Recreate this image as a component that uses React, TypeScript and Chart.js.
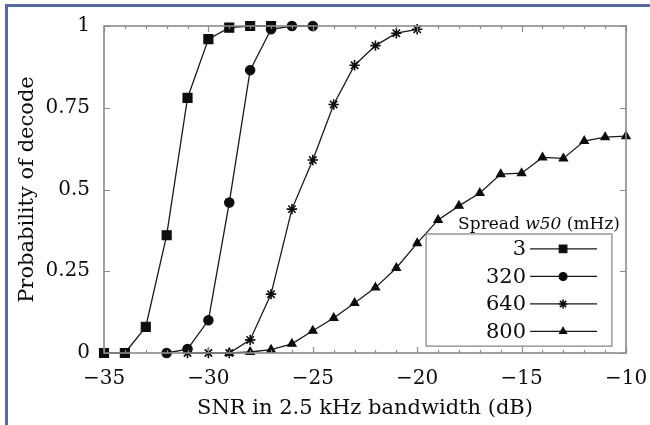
import React, { useEffect, useRef } from "react";
import { Chart, registerables } from "chart.js";
import { drawPoint } from "chart.js/helpers";

Chart.register(...registerables);

// SNR (dB) and decode probability for each Doppler spread w50 (mHz)
const snr3 = [-35, -34, -33, -32, -31, -30, -29, -28, -27];
const prob3 = [0, 0, 0.08, 0.36, 0.78, 0.96, 0.995, 1, 1];

const snr320 = [-32, -31, -30, -29, -28, -27, -26, -25];
const prob320 = [0, 0.012, 0.1, 0.46, 0.865, 0.99, 1, 1];

const snr640 = [-31, -30, -29, -28, -27, -26, -25, -24, -23, -22, -21, -20];
const prob640 = [0, 0, 0, 0.04, 0.18, 0.44, 0.59, 0.76, 0.88, 0.94, 0.978, 0.99];

const snr800 = [-29, -28, -27, -26, -25, -24, -23, -22, -21, -20, -19, -18, -17, -16, -15, -14, -13, -12, -11, -10];
const prob800 = [0, 0.003, 0.01, 0.028, 0.068, 0.107, 0.153, 0.2, 0.26, 0.336, 0.407, 0.45, 0.489, 0.547, 0.55, 0.598, 0.595, 0.648, 0.66, 0.663];

const spreadLabels = ["3", "320", "640", "800"];
const markerStyles = ["rect", "circle", "star", "triangle"];
const markerRadii = [6.4, 4.7, 5.2, 4.9];
const markerLineWidths = [1.1, 1.1, 1.6, 1.1];

const xTicks = [-35, -30, -25, -20, -15, -10];
const yTicks = [0, 0.25, 0.5, 0.75, 1];

const SERIF = "'DejaVu Serif', serif";
const INK = "#0d0d0d";
const FRAME = "#8a8a8a";

const fmtMinus = (v: number) => (v < 0 ? "\u2212" + Math.abs(v) : String(v));

// Plot frame, mirrored inward ticks and the boxed legend
const decorPlugin = {
  id: "decor",
  afterDraw(chart: any) {
    const { ctx, chartArea: a } = chart;
    const xs = chart.scales.x;
    const ys = chart.scales.y;
    const W = a.right - a.left;
    const H = a.bottom - a.top;
    ctx.save();
    ctx.strokeStyle = FRAME;
    ctx.lineWidth = 1.2;
    ctx.beginPath();
    for (let v = xTicks[0]; v <= xTicks[xTicks.length - 1]; v++) {
      const px = Math.round(xs.getPixelForValue(v)) + 0.5;
      const len = v % 5 === 0 ? 6 : 3;
      ctx.moveTo(px, a.bottom);
      ctx.lineTo(px, a.bottom - len);
      ctx.moveTo(px, a.top);
      ctx.lineTo(px, a.top + len);
    }
    yTicks.forEach((v) => {
      const py = Math.round(ys.getPixelForValue(v)) + 0.5;
      ctx.moveTo(a.left, py);
      ctx.lineTo(a.left + 6, py);
      ctx.moveTo(a.right, py);
      ctx.lineTo(a.right - 6, py);
    });
    ctx.stroke();
    ctx.lineWidth = 1.6;
    ctx.strokeRect(a.left, a.top, W, H);

    // legend
    const boxL = a.left + W * 0.617;
    const boxR = a.left + W * 0.973;
    const boxT = a.top + H * 0.636;
    const boxB = a.top + H * 0.979;
    ctx.fillStyle = "#fff";
    ctx.fillRect(boxL, boxT, boxR - boxL, boxB - boxT);
    ctx.strokeStyle = FRAME;
    ctx.lineWidth = 1.3;
    ctx.strokeRect(boxL, boxT, boxR - boxL, boxB - boxT);

    // title: Spread w50 (mHz), right aligned
    ctx.fillStyle = INK;
    ctx.textBaseline = "alphabetic";
    const normal = `17px ${SERIF}`;
    const italic = `italic 17px ${SERIF}`;
    const parts: [string, string][] = [["Spread ", normal], ["w50", italic], [" (mHz)", normal]];
    let w = 0;
    parts.forEach(([t, f]) => { ctx.font = f; w += ctx.measureText(t).width; });
    let tx = a.right - 6 - w;
    const ty = boxT - 5;
    parts.forEach(([t, f]) => {
      ctx.font = f;
      ctx.textAlign = "left";
      ctx.fillText(t, tx, ty);
      tx += ctx.measureText(t).width;
    });

    const labelRight = boxL + 100;
    const lineL = labelRight + 4;
    const lineR = lineL + 67;
    const markX = lineL + 33;
    const rowY0 = boxT + 15;
    const rowStep = 27.5;
    spreadLabels.forEach((lab, i) => {
      const yy = rowY0 + i * rowStep;
      ctx.font = `21px ${SERIF}`;
      ctx.textAlign = "right";
      ctx.textBaseline = "middle";
      ctx.fillStyle = INK;
      ctx.fillText(lab, labelRight, yy + 1);
      ctx.strokeStyle = "#1a1a1a";
      ctx.lineWidth = 1.3;
      ctx.beginPath();
      ctx.moveTo(lineL, yy);
      ctx.lineTo(lineR, yy);
      ctx.stroke();
      ctx.fillStyle = INK;
      ctx.strokeStyle = INK;
      ctx.lineWidth = markerLineWidths[i];
      drawPoint(ctx, { pointStyle: markerStyles[i], radius: markerRadii[i] * 0.85, rotation: 0, borderWidth: markerLineWidths[i] }, markX, yy);
    });
    ctx.restore();
  },
};

function series(xs: number[], ys: number[], i: number) {
  return {
    label: spreadLabels[i],
    data: xs.map((x, k) => ({ x, y: ys[k] })),
    borderColor: "#1a1a1a",
    borderWidth: 1.3,
    pointStyle: markerStyles[i],
    pointRadius: markerRadii[i],
    pointBackgroundColor: INK,
    pointBorderColor: INK,
    pointBorderWidth: markerLineWidths[i],
    tension: 0,
    clip: false as any,
  };
}

export default function App() {
  const ref = useRef<HTMLCanvasElement | null>(null);
  useEffect(() => {
    if (!ref.current) return;
    const chart = new Chart(ref.current, {
      type: "line",
      data: {
        datasets: [
          series(snr3, prob3, 0),
          series(snr320, prob320, 1),
          series(snr640, prob640, 2),
          series(snr800, prob800, 3),
        ],
      },
      options: {
        responsive: false,
        animation: false,
        events: [],
        layout: { padding: { left: 0, right: 24, top: 26, bottom: 0 } },
        plugins: { legend: { display: false }, tooltip: { enabled: false } },
        scales: {
          x: {
            type: "linear",
            min: -35,
            max: -10,
            afterFit: (s: any) => {
              s.height = 72;
              s.paddingLeft = 0;
              s.paddingRight = 0;
            },
            afterBuildTicks: (s: any) => { s.ticks = xTicks.map((v) => ({ value: v })); },
            grid: { display: false, drawTicks: false },
            border: { display: false },
            ticks: {
              padding: 14,
              color: INK,
              font: { family: SERIF, size: 20 },
              maxRotation: 0,
              callback: (v: any) => fmtMinus(Number(v)),
            },
            title: {
              display: true,
              text: "SNR in 2.5 kHz bandwidth (dB)",
              color: INK,
              font: { family: SERIF, size: 21 },
              padding: { top: 0, bottom: 4 },
            },
          },
          y: {
            type: "linear",
            min: 0,
            max: 1,
            afterFit: (s: any) => {
              s.width = 104;
              s.paddingTop = 0;
              s.paddingBottom = 0;
            },
            afterBuildTicks: (s: any) => { s.ticks = yTicks.map((v) => ({ value: v })); },
            grid: { display: false, drawTicks: false },
            border: { display: false },
            ticks: {
              padding: 14,
              color: INK,
              font: { family: SERIF, size: 20 },
              callback: (v: any) => String(Number(v)),
            },
            title: {
              display: true,
              text: "Probability of decode",
              color: INK,
              font: { family: SERIF, size: 21 },
              padding: { top: 15, bottom: 0 },
            },
          },
        },
      },
      plugins: [decorPlugin],
    });
    return () => chart.destroy();
  }, []);

  return (
    <div
      style={{
        position: "fixed",
        left: 0,
        top: 0,
        width: 650,
        height: 425,
        background: "#fff",
        overflow: "hidden",
      }}
    >
      <canvas ref={ref} width={650} height={425} style={{ position: "absolute", left: 0, top: 0 }} />
      <div
        style={{
          position: "absolute",
          left: 5,
          top: 4,
          width: 700,
          height: 500,
          borderLeft: "3px solid #5268b0",
          borderTop: "3px solid #5268b0",
          pointerEvents: "none",
        }}
      />
    </div>
  );
}
